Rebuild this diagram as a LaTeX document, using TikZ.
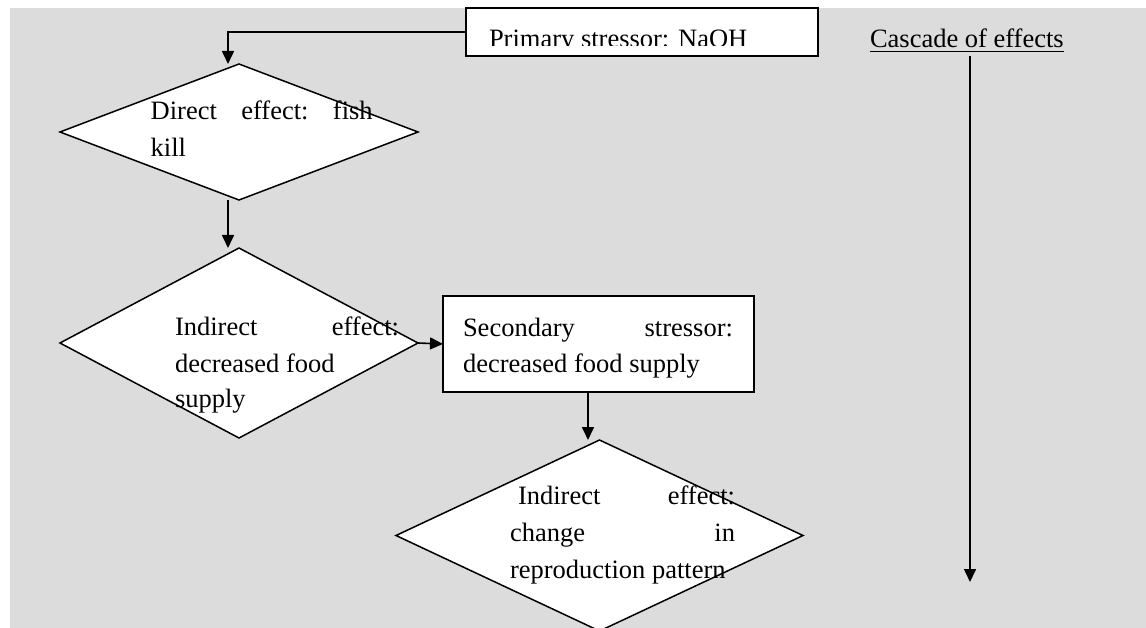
\documentclass[tikz,border=0pt]{standalone}
\usepackage{fontspec}
\setmainfont{Liberation Serif}
\usetikzlibrary{shapes.geometric,arrows.meta}
\definecolor{bggray}{RGB}{220,220,220}
\tikzset{
  boxnode/.style={draw, line width=1.5pt, fill=white, inner sep=0pt, outer sep=0pt},
  dianode/.style={diamond, draw, line width=1.5pt, fill=white, inner sep=0pt, outer sep=0pt},
  txt/.style={anchor=base west, inner sep=0pt, outer sep=0pt, font=\fontsize{26.5}{37}\selectfont},
  arr/.style={line width=1.6pt, -{Triangle[length=13pt,width=12pt]}}
}
\begin{document}
\begin{tikzpicture}[x=1pt,y=-1pt]
\useasboundingbox (0,0) rectangle (1146,628);
\clip (0,0) rectangle (1146,628);
\fill[bggray] (10,8) rectangle (1146,628);

% primary stressor box
\node[boxnode, minimum width=352pt, minimum height=48pt] (p) at (642,32) {};
\begin{scope}
  \clip (468,9) rectangle (817,46);
  \node[txt] (tp) at (489,47.5) {Primary stressor: NaOH};
\end{scope}

% diamond 1
\node[dianode, minimum width=358pt, minimum height=136pt] (d1) at (239,132) {};
\node[txt] (t1) at (150.7,120) {\vtop{\hsize=222pt \baselineskip=37pt \lineskiplimit=-100pt
  \hbox to\hsize{Direct\hfill effect:\hfill fish}\hbox{kill}}};

% diamond 2
\node[dianode, minimum width=358pt, minimum height=190pt] (d2) at (239,343) {};
\node[txt] (t2) at (175,336) {\vtop{\hsize=224pt \baselineskip=36pt \lineskiplimit=-100pt
  \hbox to\hsize{Indirect\hfill effect:}\hbox{decreased food}\hbox{supply}}};

% secondary stressor box
\node[boxnode, minimum width=311pt, minimum height=96pt] (s) at (598.5,344) {};
\node[txt] (ts) at (463,337) {\vtop{\hsize=270pt \baselineskip=35.5pt \lineskiplimit=-100pt
  \hbox to\hsize{Secondary\hfill stressor:}\hbox{decreased food supply}}};

% diamond 3
\node[dianode, minimum width=407pt, minimum height=191pt] (d3) at (599.5,535.5) {};
\node[txt] (t3) at (510,504) {\vtop{\hsize=225pt \baselineskip=37pt \lineskiplimit=-100pt
  \hbox to\hsize{\hskip 8pt Indirect\hfill effect:}\hbox to\hsize{change\hfill in}\hbox{reproduction pattern}}};

% cascade label
\node[txt] (casc) at (870,47.5) {Cascade of effects};
\draw[line width=1.3pt] ([yshift=-4.2pt]casc.base west) -- ([yshift=-4.2pt]casc.base east);
\coordinate (cstart) at (970,56);
\coordinate (cend) at (970,582);

% connectors
\draw[arr] (p.west) -| ([xshift=-11pt]d1.north);
\draw[arr] ([xshift=-11pt]d1.south) -- ([xshift=-11pt]d2.north);
\draw[arr] (d2.east) -- (s.west);
\draw[arr] ([xshift=-10.5pt]s.south) -- ([xshift=-10.5pt]s.south |- d3.north);
\draw[arr] (cstart) -- (cend);
\end{tikzpicture}
\end{document}
